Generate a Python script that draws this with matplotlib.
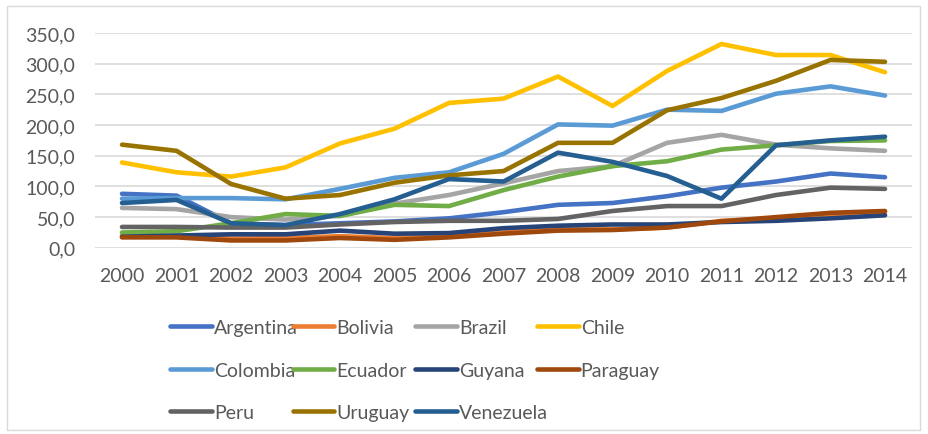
import matplotlib.pyplot as plt
from matplotlib.patches import Rectangle

plt.rcParams['font.family'] = ['Lato', 'DejaVu Sans']

years = list(range(2000, 2015))

argentina = [88, 85, 40, 37, 40, 43, 48, 58, 70, 73, 84, 98, 108, 121, 115]
bolivia = [20, 19, 15, 16, 19, 16, 19, 25, 30, 30, 33, 44, 48, 55, 58]
brazil = [65, 63, 50, 46, 52, 72, 86, 105, 125, 133, 171, 184, 168, 162, 158]
chile = [139, 123, 116, 131, 170, 194, 236, 243, 279, 231, 288, 332, 314, 314, 286]
colombia = [80, 81, 81, 79, 96, 114, 123, 153, 201, 199, 225, 223, 251, 263, 248]
ecuador = [25, 27, 40, 55, 52, 70, 68, 94, 116, 133, 141, 160, 167, 174, 175]
guyana = [18, 20, 22, 22, 28, 23, 24, 32, 36, 38, 38, 42, 44, 48, 53]
paraguay = [17, 17, 12, 12, 16, 13, 17, 23, 28, 29, 33, 43, 50, 57, 60]
peru = [34, 34, 33, 33, 38, 42, 44, 44, 47, 60, 68, 68, 86, 98, 96]
uruguay = [168, 158, 104, 80, 86, 106, 118, 125, 171, 171, 224, 244, 272, 306, 303]
venezuela = [73, 78, 40, 37, 55, 79, 112, 108, 155, 140, 117, 80, 167, 175, 181]

countries = ['Argentina', 'Bolivia', 'Brazil', 'Chile', 'Colombia', 'Ecuador',
             'Guyana', 'Paraguay', 'Peru', 'Uruguay', 'Venezuela']
series = [argentina, bolivia, brazil, chile, colombia, ecuador,
          guyana, paraguay, peru, uruguay, venezuela]
colors = ['#4472C4', '#ED7D31', '#A5A5A5', '#FFC000', '#5B9BD5', '#70AD47',
          '#264478', '#9E480E', '#636363', '#997300', '#255E91']

fig = plt.figure(figsize=(9.29, 4.35), dpi=100)
ax = fig.add_axes([0.102, 0.428, 0.880, 0.494])

handles = []
for name, vals, col in zip(countries, series, colors):
    h, = ax.plot(years, vals, color=col, lw=3.3, solid_capstyle='round',
                 solid_joinstyle='round', label=name)
    handles.append(h)

ax.set_xlim(1999.5, 2014.5)
ax.set_ylim(0, 350)
ax.set_yticks(range(0, 351, 50))
ax.set_yticklabels([f'{v},0' for v in range(0, 351, 50)])
ax.set_xticks(years)
ax.grid(axis='y', color='#D9D9D9', lw=1.2)
ax.set_axisbelow(True)
for s in ax.spines.values():
    s.set_visible(False)
ax.tick_params(length=0, labelsize=14, labelcolor='#595959')
ax.tick_params(axis='x', pad=14)
ax.tick_params(axis='y', pad=14)

# legend: four columns, equally spaced like Excel
col_x = [0.183, 0.315, 0.447, 0.578]
for c in range(4):
    hs = handles[c::4]
    leg = fig.legend(hs, [h.get_label() for h in hs], loc='upper left',
                     bbox_to_anchor=(col_x[c], 0.264), frameon=False,
                     fontsize=14, handlelength=2.15, handletextpad=0.1,
                     labelspacing=1.31, borderpad=0, borderaxespad=0,
                     labelcolor='#595959')
    for ln in leg.get_lines():
        ln.set_linewidth(3.3)

fig.add_artist(Rectangle((0.008, 0.01), 0.982, 0.975, transform=fig.transFigure,
                         fill=False, edgecolor='#D9D9D9', lw=1))

fig.savefig('out.png', dpi=100)
